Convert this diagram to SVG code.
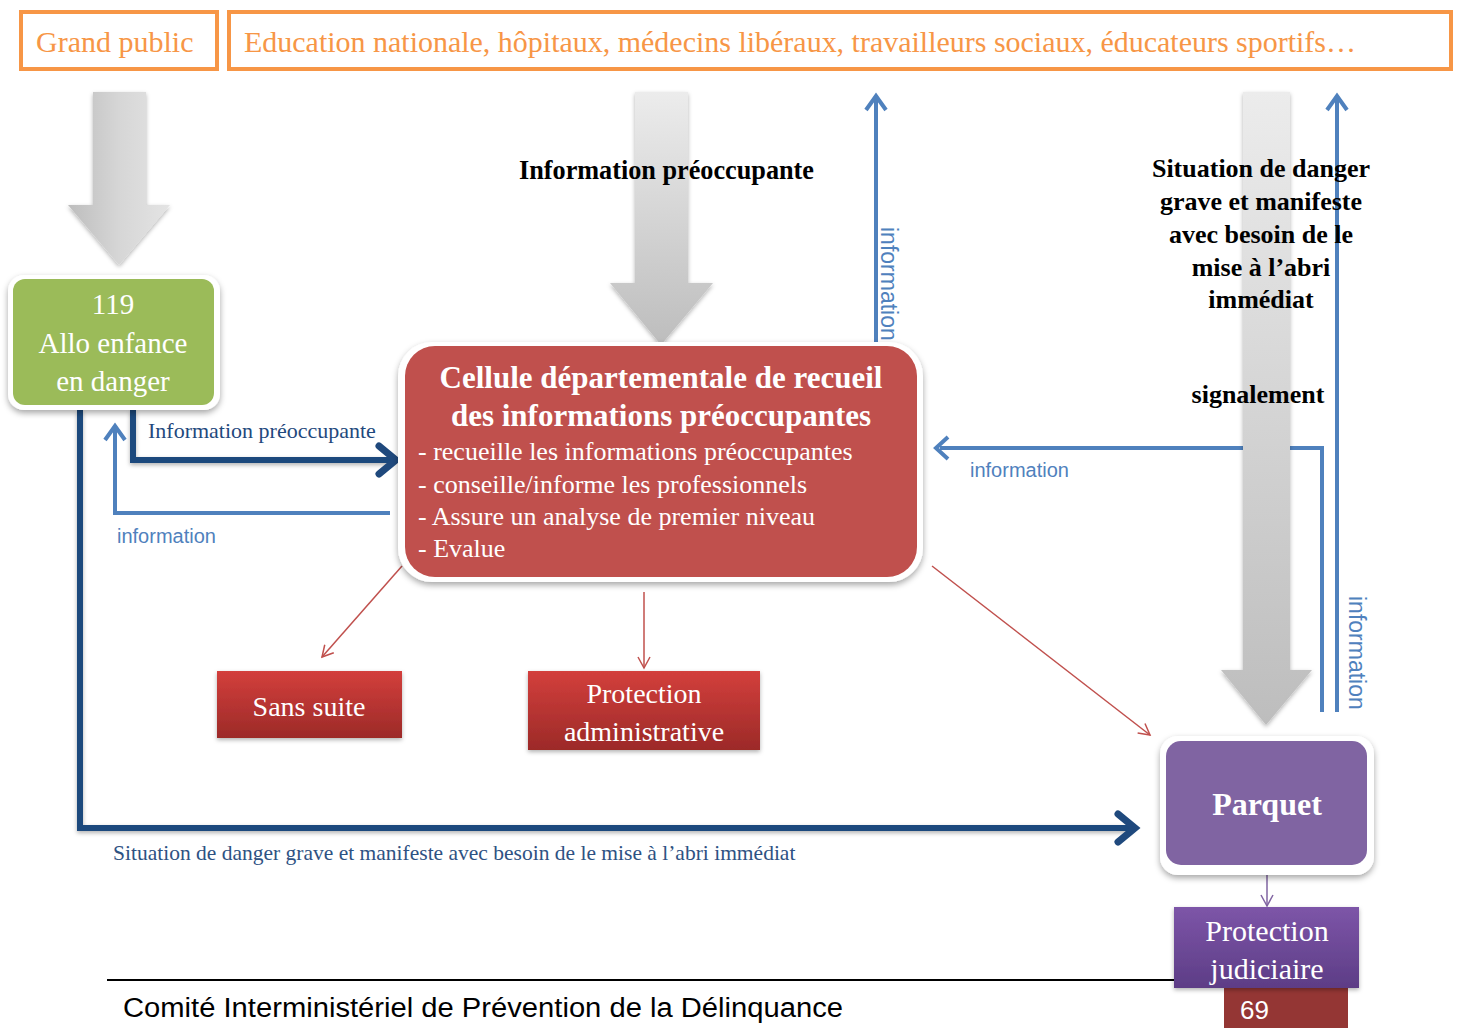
<svg xmlns="http://www.w3.org/2000/svg" width="1459" height="1028" viewBox="0 0 1459 1028">
<defs>
  <linearGradient id="gH" x1="0" y1="0" x2="1" y2="0">
    <stop offset="0" stop-color="#bdbdbd"/><stop offset="0.5" stop-color="#d6d6d6"/><stop offset="1" stop-color="#e4e4e4"/>
  </linearGradient>
  <linearGradient id="gV" x1="0" y1="0" x2="0" y2="1">
    <stop offset="0" stop-color="#ececec"/><stop offset="1" stop-color="#bdbdbd"/>
  </linearGradient>
  <linearGradient id="gRed" x1="0" y1="0" x2="0" y2="1">
    <stop offset="0" stop-color="#d33f3c"/><stop offset="1" stop-color="#9c2a28"/>
  </linearGradient>
  <linearGradient id="gPur" x1="0" y1="0" x2="0" y2="1">
    <stop offset="0" stop-color="#7d55a8"/><stop offset="1" stop-color="#5d3d86"/>
  </linearGradient>
  <filter id="sh" x="-10%" y="-10%" width="120%" height="130%">
    <feDropShadow dx="0" dy="3" stdDeviation="3" flood-color="#000" flood-opacity="0.35"/>
  </filter>
  <filter id="shs" x="-10%" y="-10%" width="120%" height="130%">
    <feDropShadow dx="0" dy="2" stdDeviation="2" flood-color="#000" flood-opacity="0.3"/>
  </filter>
  <marker id="mRed" markerWidth="14" markerHeight="14" refX="12" refY="7" orient="auto" markerUnits="userSpaceOnUse">
    <path d="M1,1 L12,7 L1,13" fill="none" stroke="#c0504d" stroke-width="1.5"/>
  </marker>
  <marker id="mPur" markerWidth="14" markerHeight="14" refX="12" refY="7" orient="auto" markerUnits="userSpaceOnUse">
    <path d="M1,1 L12,7 L1,13" fill="none" stroke="#8064a2" stroke-width="1.5"/>
  </marker>
</defs>
<style>
  .serif { font-family: "Liberation Serif", "DejaVu Serif", serif; }
  .sans { font-family: "Liberation Sans", Arial, sans-serif; }
  .orange { fill: none; stroke: #f79646; stroke-width: 4; }
  .otext { fill: #f79646; font-size: 30px; }
  .wt { fill: #ffffff; }
  .info { fill: #4f81bd; font-size: 20px; }
  .vinfo { fill: #4f81bd; font-size: 23px; }
  .lb { fill: none; stroke: #4f81bd; stroke-width: 4; stroke-linejoin: miter; }
  .db { fill: none; stroke: #1f497d; stroke-width: 6; stroke-linejoin: miter; }
  .red { fill: none; stroke: #c0504d; stroke-width: 1.5; }
  .bold { font-weight: bold; fill: #000; }
</style>
<rect width="1459" height="1028" fill="#ffffff"/>

<!-- top sources -->
<g id="grand-public">
  <rect class="orange" x="21" y="12" width="196" height="57"/>
  <text class="serif otext" x="36" y="52">Grand public</text>
</g>
<g id="professionnels">
  <rect class="orange" x="229" y="12" width="1222" height="57"/>
  <text class="serif otext" x="244" y="52" textLength="1112" lengthAdjust="spacingAndGlyphs">Education nationale, hôpitaux, médecins libéraux, travailleurs sociaux, éducateurs sportifs…</text>
</g>

<!-- connectors -->
<g id="connectors">
  <!-- gray big arrows -->
  <path d="M93,92 H146 V205 H170 L119,265 L68,205 H93 Z" fill="url(#gH)" filter="url(#shs)"/>
  <path d="M635,92 H688 V283 H713 L661,345 L610,283 H635 Z" fill="url(#gV)" filter="url(#shs)"/>
  <!-- light blue lines on right (under gray arrow) -->
  <path class="lb" d="M1322,712 V448 H940"/>
  <path d="M948,437 L936,448 L948,459" fill="none" stroke="#4f81bd" stroke-width="4"/>
  <path d="M1243,92 H1290 V670 H1312 L1266,725 L1221,670 H1243 Z" fill="url(#gV)" filter="url(#shs)"/>
  <path class="lb" d="M1337,712 V98"/>
  <path d="M1327,110 L1337,96 L1347,110" fill="none" stroke="#4f81bd" stroke-width="4"/>
  <path class="lb" d="M876,343 V98"/>
  <path d="M866,110 L876,96 L886,110" fill="none" stroke="#4f81bd" stroke-width="4"/>
  <!-- light blue back to 119 -->
  <path class="lb" d="M390,513 H115 V428"/>
  <path d="M105,440 L115,426 L125,440" fill="none" stroke="#4f81bd" stroke-width="4"/>
  <!-- dark blue -->
  <path class="db" d="M133,410 V460 H394" filter="url(#shs)"/>
  <path d="M379,446 L396,460 L379,474" fill="none" stroke="#1f497d" stroke-width="7" stroke-linecap="round"/>
  <path class="db" d="M80,410 V828 H1132" filter="url(#shs)"/>
  <path d="M1118,814 L1135,828 L1118,842" fill="none" stroke="#1f497d" stroke-width="7" stroke-linecap="round"/>
  <!-- red thin -->
  <line class="red" x1="402" y1="566" x2="322" y2="657" marker-end="url(#mRed)"/>
  <line class="red" x1="644" y1="592" x2="644" y2="668" marker-end="url(#mRed)"/>
  <line class="red" x1="932" y1="566" x2="1150" y2="735" marker-end="url(#mRed)"/>
  <!-- purple -->
  <line x1="1267" y1="868" x2="1267" y2="906" stroke="#8064a2" stroke-width="1.5" marker-end="url(#mPur)"/>
</g>

<!-- labels -->
<g id="labels">
  <text class="serif bold" x="519" y="179" font-size="27" textLength="295" lengthAdjust="spacingAndGlyphs">Information préoccupante</text>
  <g class="serif bold" font-size="26" text-anchor="middle">
    <text x="1261" y="177">Situation de danger</text>
    <text x="1261" y="210">grave et manifeste</text>
    <text x="1261" y="243">avec besoin de le</text>
    <text x="1261" y="276">mise à l’abri</text>
    <text x="1261" y="308">immédiat</text>
    <text x="1258" y="403">signalement</text>
  </g>
  <text class="serif" x="148" y="438" font-size="22" fill="#1f497d">Information préoccupante</text>
  <text class="sans info" x="117" y="543">information</text>
  <text class="sans info" x="970" y="477">information</text>
  <text class="sans vinfo" transform="translate(881,227) rotate(90)">information</text>
  <text class="sans vinfo" transform="translate(1349,596) rotate(90)">information</text>
  <text class="serif" x="113" y="860" font-size="21.5" fill="#2e5283">Situation de danger grave et manifeste avec besoin de le mise à l’abri immédiat</text>
</g>

<!-- nodes -->
<g id="allo119">
  <rect x="8" y="275" width="212" height="135" rx="16" fill="#ffffff" filter="url(#sh)"/>
  <rect x="13" y="279" width="201" height="126" rx="12" fill="#9bbb59"/>
  <g class="serif wt" font-size="29" text-anchor="middle">
    <text x="113" y="314">119</text>
    <text x="113" y="353">Allo enfance</text>
    <text x="113" y="391">en danger</text>
  </g>
</g>

<g id="cellule">
  <rect x="398" y="342" width="525" height="240" rx="34" fill="#ffffff" filter="url(#sh)"/>
  <rect x="405" y="346" width="512" height="231" rx="30" fill="#c0504d"/>
  <g class="serif wt" font-size="31" font-weight="bold" text-anchor="middle">
    <text x="661" y="388">Cellule départementale de recueil</text>
    <text x="661" y="426">des informations préoccupantes</text>
  </g>
  <g class="serif wt" font-size="26">
    <text x="418" y="460">- recueille les informations préoccupantes</text>
    <text x="418" y="493">- conseille/informe les professionnels</text>
    <text x="418" y="525">- Assure un analyse de premier niveau</text>
    <text x="418" y="557">- Evalue</text>
  </g>
</g>

<g id="sans-suite">
  <rect x="217" y="671" width="185" height="67" fill="url(#gRed)" filter="url(#shs)"/>
  <text class="serif wt" x="309" y="716" font-size="28" text-anchor="middle">Sans suite</text>
</g>

<g id="protection-administrative">
  <rect x="528" y="671" width="232" height="79" fill="url(#gRed)" filter="url(#shs)"/>
  <g class="serif wt" font-size="28" text-anchor="middle">
    <text x="644" y="703">Protection</text>
    <text x="644" y="741">administrative</text>
  </g>
</g>

<g id="parquet">
  <rect x="1160" y="736" width="214" height="139" rx="18" fill="#ffffff" filter="url(#sh)"/>
  <rect x="1166" y="741" width="201" height="124" rx="15" fill="#8064a2"/>
  <text class="serif wt" x="1267" y="815" font-size="32" font-weight="bold" text-anchor="middle">Parquet</text>
</g>

<g id="footer">
  <line x1="107" y1="980" x2="1174" y2="980" stroke="#000" stroke-width="2"/>
  <text class="sans" x="123" y="1017" font-size="27" fill="#000" textLength="720" lengthAdjust="spacingAndGlyphs">Comité Interministériel de Prévention de la Délinquance</text>
  <rect x="1224" y="988" width="124" height="40" fill="#943634"/>
  <text class="sans wt" x="1240" y="1019" font-size="26">69</text>
</g>

<g id="protection-judiciaire">
  <rect x="1174" y="907" width="185" height="81" fill="url(#gPur)" filter="url(#shs)"/>
  <g class="serif wt" font-size="30" text-anchor="middle">
    <text x="1267" y="941">Protection</text>
    <text x="1267" y="979">judiciaire</text>
  </g>
</g>
</svg>
